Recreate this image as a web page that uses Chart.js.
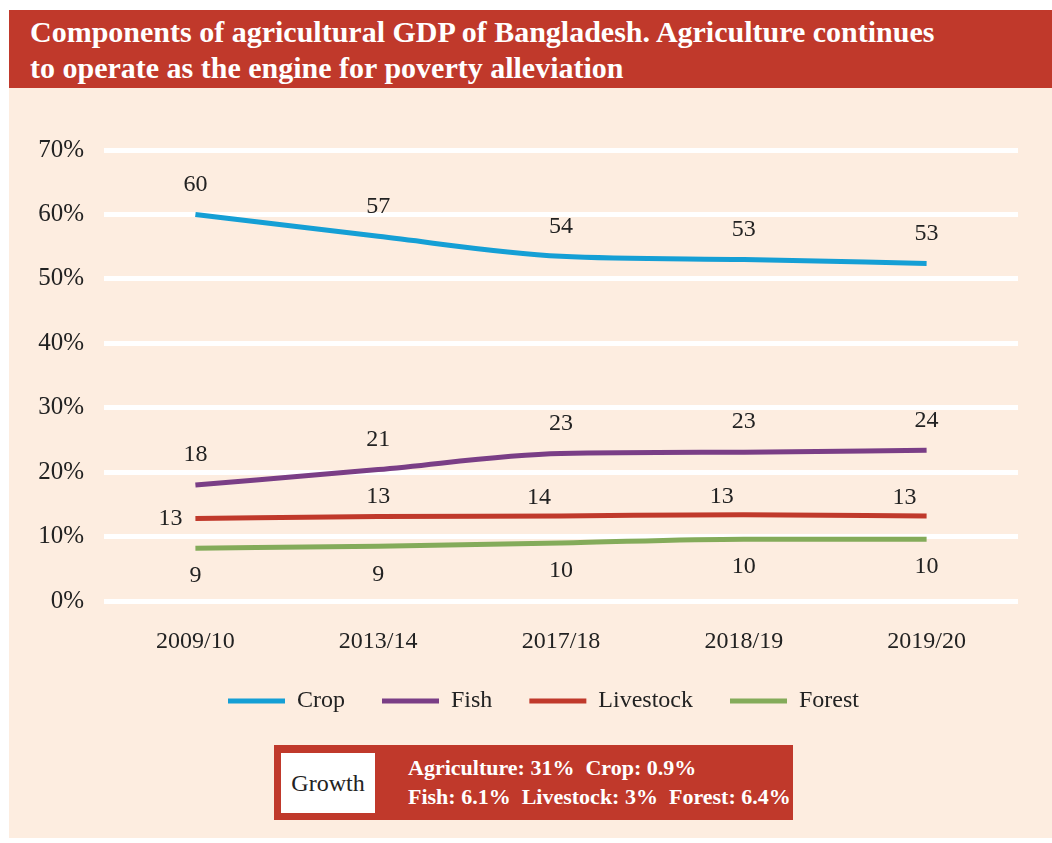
<!DOCTYPE html>
<html>
<head>
<meta charset="utf-8">
<script src="https://cdn.jsdelivr.net/npm/chart.js@4"></script>
<style>
    body { margin: 0; width: 1052px; height: 843px; background: #fff; position: relative; overflow: hidden; font-family: "Liberation Serif", serif; }
    #title { position: absolute; left: 9px; top: 10px; width: 1022px; height: 74px; padding: 4px 0 0 21px; background: #c0392b; color: #fff; font-weight: bold; font-size: 30px; line-height: 36px; }
    #panel { position: absolute; left: 9px; top: 88px; width: 1043px; height: 750px; background: #fdede0; }
    #wrap { position: absolute; left: 9px; top: 88px; width: 1043px; height: 635px; }
    #growth { position: absolute; left: 274px; top: 745px; width: 519px; height: 75px; background: #c0392b; }
    #growth .label { position: absolute; left: 7px; top: 8px; width: 94px; height: 60px; background: #fff; color: #222; font-size: 24px; line-height: 60px; text-align: center; }
    #growth .text { position: absolute; left: 134px; top: 8px; color: #fff; font-weight: bold; font-size: 22px; line-height: 29px; white-space: pre; }
</style>
</head>
<body>
<div id="title">Components of agricultural GDP of Bangladesh. Agriculture continues<br>to operate as the engine for poverty alleviation</div>
<div id="panel"></div>
<div id="wrap"><canvas id="chart"></canvas></div>
<div id="growth">
    <div class="label">Growth</div>
    <div class="text">Agriculture: 31%  Crop: 0.9%
Fish: 6.1%  Livestock: 3%  Forest: 6.4%</div>
</div>
<script>
const years = ['2009/10', '2013/14', '2017/18', '2018/19', '2019/20'];

// plotted shares (%)
const crop = [60, 56.6, 53.5, 53.0, 52.4];
const fish = [18, 20.4, 22.9, 23.1, 23.4];
const livestock = [12.8, 13.1, 13.2, 13.4, 13.2];
const forest = [8.2, 8.5, 9.0, 9.6, 9.6];

// printed labels
const cropLabels = [60, 57, 54, 53, 53];
const fishLabels = [18, 21, 23, 23, 24];
const livestockLabels = [13, 13, 14, 13, 13];
const forestLabels = [9, 9, 10, 10, 10];

const serif = "'Liberation Serif', serif";

// draws the number labels next to each point
const valueLabels = {
    id: 'valueLabels',
    afterDatasetsDraw(chart) {
        const ctx = chart.ctx;
        ctx.save();
        ctx.font = '24px ' + serif;
        ctx.fillStyle = '#222';
        ctx.textAlign = 'center';
        ctx.textBaseline = 'middle';
        chart.data.datasets.forEach((ds, i) => {
            chart.getDatasetMeta(i).data.forEach((pt, j) => {
                let off = ds.labelOffset[j] || ds.labelOffset;
                if (Array.isArray(off[0])) off = off[j];
                ctx.fillText(ds.labels[j], pt.x + off[0], pt.y + off[1]);
            });
        });
        ctx.restore();
    }
};

// legend sits a bit right of the canvas centre
const legendShift = {
    id: 'legendShift',
    afterLayout(chart) {
        chart.legend.left += 30;
        chart.legend.right += 30;
    }
};

const above = [0, -30];
const below = [0, 28];

let ctx = document.getElementById('chart');
let lineChart = new Chart(ctx, {
    type: 'line',
    data: {
        labels: years,
        datasets: [{
            label: 'Crop',
            data: crop,
            labels: cropLabels,
            labelOffset: [above, above, above, above, above],
            borderColor: '#159fd5',
            backgroundColor: '#159fd5'
        }, {
            label: 'Fish',
            data: fish,
            labels: fishLabels,
            labelOffset: [above, above, above, above, above],
            borderColor: '#7a3e86',
            backgroundColor: '#7a3e86'
        }, {
            label: 'Livestock',
            data: livestock,
            labels: livestockLabels,
            labelOffset: [[-25, 0], [0, -20], [-22, -18], [-22, -18], [-22, -18]],
            borderColor: '#c0392b',
            backgroundColor: '#c0392b'
        }, {
            label: 'Forest',
            data: forest,
            labels: forestLabels,
            labelOffset: [below, below, below, below, below],
            borderColor: '#84ab5a',
            backgroundColor: '#84ab5a'
        }]
    },
    options: {
        responsive: true,
        maintainAspectRatio: false,
        animation: false,
        layout: {
            padding: { top: 62, right: 34, left: 0, bottom: 0 }
        },
        elements: {
            line: { borderWidth: 5, cubicInterpolationMode: 'monotone', borderCapStyle: 'butt' },
            point: { radius: 0 }
        },
        scales: {
            x: {
                offset: true,
                grid: { display: false },
                border: { display: false },
                ticks: {
                    color: '#222',
                    font: { family: serif, size: 24 },
                    padding: 18
                },
                afterFit(scale) { scale.height = 51; }
            },
            y: {
                min: 0,
                max: 70,
                grid: { color: '#ffffff', lineWidth: 5, drawTicks: false },
                border: { display: false },
                ticks: {
                    stepSize: 10,
                    color: '#222',
                    padding: 20,
                    font: { family: serif, size: 25 },
                    callback: v => v + '%'
                },
                afterFit(scale) { scale.width = 95; }
            }
        },
        plugins: {
            legend: {
                position: 'bottom',
                labels: {
                    boxWidth: 57,
                    boxHeight: 5,
                    padding: 37,
                    color: '#222',
                    font: { family: serif, size: 24 },
                    generateLabels: chart => Chart.defaults.plugins.legend.labels.generateLabels(chart).map(l => ({ ...l, lineWidth: 0, fillStyle: l.strokeStyle }))
                }
            },
            tooltip: { enabled: false }
        }
    },
    plugins: [valueLabels, legendShift]
});
</script>
</body>
</html>
